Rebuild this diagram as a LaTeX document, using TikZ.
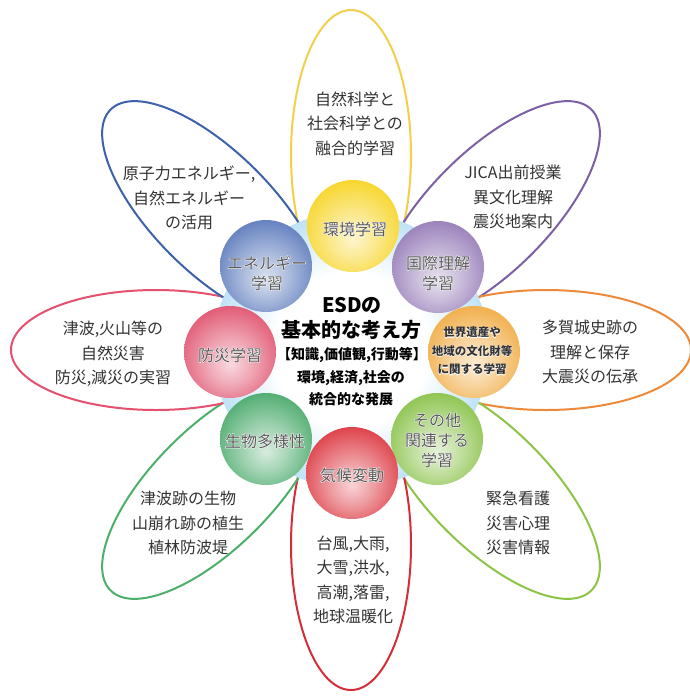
\documentclass[tikz,border=0pt]{standalone}
\usepackage{fontspec}
\setmainfont{Noto Sans CJK JP}
\newfontfamily\halofam{Noto Sans CJK JP}[FakeBold=5]
\definecolor{petY}{HTML}{F2D04C}
\definecolor{petP}{HTML}{7D5FA5}
\definecolor{petO}{HTML}{EC8A3A}
\definecolor{petLG}{HTML}{8DC447}
\definecolor{petR}{HTML}{D42F38}
\definecolor{petG}{HTML}{4DB06A}
\definecolor{petPk}{HTML}{E5506E}
\definecolor{petB}{HTML}{3E62AA}
\definecolor{sY}{HTML}{F6CF0A}
\definecolor{sP}{HTML}{8A6DB0}
\definecolor{sO}{HTML}{EFA22E}
\definecolor{sLG}{HTML}{7DBB35}
\definecolor{sR}{HTML}{D9232D}
\definecolor{sG}{HTML}{35A05A}
\definecolor{sPk}{HTML}{DD3F5E}
\definecolor{sB}{HTML}{4A6CB5}
\definecolor{diskblue}{HTML}{5CB6E6}
\definecolor{labgray}{HTML}{5A5A5A}
\definecolor{txtgray}{HTML}{333333}
\colorlet{sphc}{red}
\pgfdeclareradialshading[sphc]{sphereshade}{\pgfpoint{0bp}{-7bp}}{%
  color(0bp)=(sphc!20!white); color(12bp)=(sphc!45!white); color(30bp)=(sphc!88!white);
  color(46bp)=(sphc); color(62bp)=(sphc!75!black)}
\pgfdeclareradialshading{diskshade}{\pgfpoint{0bp}{0bp}}{%
  color(0bp)=(white); color(14bp)=(white); color(42bp)=(diskblue); color(50bp)=(diskblue)}
\newcommand\halonode[4]{%
  \node[#1,halo] at (#3) {#4};%
  \node[#1] (#2) at (#3) {#4};}
\tikzset{
  petal/.style={line width=2pt},
  halo/.style={text=white, execute at begin node=\halofam},
  sphere/.style={circle, minimum size=92pt, inner sep=0pt, shade, shading=sphereshade,
    /utils/exec={\colorlet{sphc}{#1}}},
  disk/.style={circle, minimum size=276pt, inner sep=0pt, shade, shading=diskshade},
  pettext/.style={font=\fontsize{16}{24.5}\selectfont, text=txtgray, align=center, inner sep=0pt},
  sphlab/.style={font=\fontsize{16}{20}\selectfont, text=labgray, align=center, inner sep=0pt},
  sphlabsmall/.style={font=\fontsize{11.5}{18.5}\selectfont\bfseries, text=txtgray, align=center, inner sep=0pt},
  ctrbig/.style={font=\fontsize{20}{24}\selectfont\bfseries, text=black, inner sep=0pt},
  ctrsmall/.style={font=\fontsize{14}{18}\selectfont\bfseries, text=black, inner sep=0pt},
}
\begin{document}
\begin{tikzpicture}[x=1pt,y=-1pt]
\useasboundingbox (0,0) rectangle (690,697);
\fill[white] (0,0) rectangle (690,697);
\coordinate (C) at (351,350);
% petals
\foreach \ang/\col in {270/petY,315/petP,0/petO,45/petLG,90/petR,135/petG,180/petPk,225/petB}{
  \draw[petal,draw=\col,shift={(351,350)},rotate=-\ang] (195,0) ellipse [x radius=145, y radius=60];
}
% central disk
\node[disk] (core) at (C) {};
% spheres
\node[sphere=sY]  (envS) at (353,226) {};
\node[sphere=sP]  (intS) at (438,267) {};
\node[sphere=sO]  (herS) at (474,352) {};
\node[sphere=sLG] (othS) at (437,439) {};
\node[sphere=sR]  (cliS) at (352,473) {};
\node[sphere=sG]  (bioS) at (266,439) {};
\node[sphere=sPk] (disS) at (230,352) {};
\node[sphere=sB]  (eneS) at (266,266) {};
% sphere labels
\halonode{sphlab}{envL}{355,229}{環境学習}
\halonode{sphlab}{intL}{438,273}{国際理解\\学習}
\halonode{sphlabsmall}{herL}{472,351}{世界遺産や\\地域の文化財等\\に関する学習}
\halonode{sphlab}{othL}{437,440}{その他\\関連する\\学習}
\halonode{sphlab}{cliL}{352,475}{気候変動}
\halonode{sphlab}{bioL}{265,441}{生物多様性}
\halonode{sphlab}{disL}{230,355}{防災学習}
\halonode{sphlab}{eneL}{267,273}{エネルギー\\学習}
% centre text
\halonode{ctrbig}{c1}{352,305}{ESDの}
\halonode{ctrbig}{c2}{351,330}{基本的な考え方}
\halonode{ctrsmall}{c3}{352,355}{【知識,価値観,行動等】}
\halonode{ctrsmall}{c4}{351,378}{環境,経済,社会の}
\halonode{ctrsmall}{c5}{351,399}{統合的な発展}
% petal texts
\node[pettext] (tY)  at (355,123.5) {自然科学と\\社会科学との\\融合的学習};
\node[pettext] (tP)  at (513,197) {JICA出前授業\\異文化理解\\震災地案内};
\node[pettext] (tO)  at (590,352) {多賀城史跡の\\理解と保存\\大震災の伝承};
\node[pettext] (tLG) at (518,523) {緊急看護\\災害心理\\災害情報};
\node[pettext] (tR)  at (353,580) {台風,大雨,\\大雪,洪水,\\高潮,落雷,\\地球温暖化};
\node[pettext] (tG)  at (188,523) {津波跡の生物\\山崩れ跡の植生\\植林防波堤};
\node[pettext] (tPk) at (113,354) {津波,火山等の\\自然災害\\防災,減災の実習};
\node[pettext] (tB)  at (189,198) {原子力エネルギー,\\自然エネルギー\\の活用};
\end{tikzpicture}
\end{document}
